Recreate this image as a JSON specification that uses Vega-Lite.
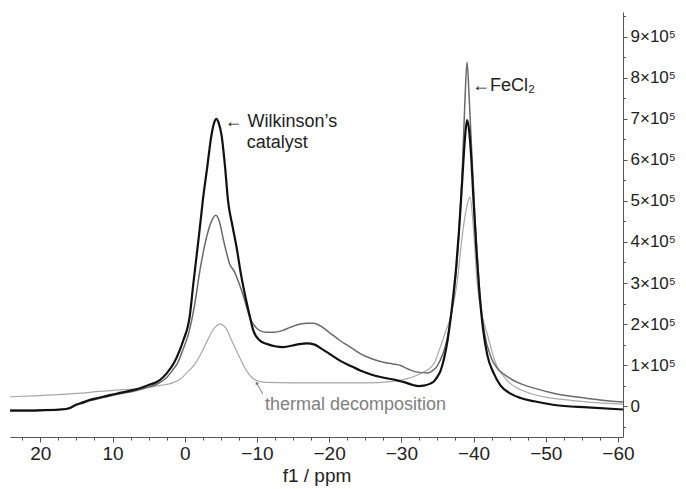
{
  "$schema": "https://vega.github.io/schema/vega-lite/v6.json",
  "width": 613,
  "height": 425,
  "autosize": "none",
  "padding": {"left": 10, "top": 12, "right": 63, "bottom": 52},
  "config": {
    "view": {"stroke": null},
    "font": "Liberation Sans",
    "axis": {"grid": false, "domainColor": "#555", "tickColor": "#555", "labelColor": "#222", "titleColor": "#222", "labelFont": "Liberation Sans", "titleFont": "Liberation Sans", "titleFontWeight": "normal"}
  },
  "datasets": {
    "spectra": [
      {"s": "T", "ppm": 24.2, "I": 23000}, {"s": "T", "ppm": 20, "I": 26000}, {"s": "T", "ppm": 15, "I": 31000}, {"s": "T", "ppm": 11.8, "I": 36000}, {"s": "T", "ppm": 9, "I": 40000}, {"s": "T", "ppm": 6.25, "I": 43000}, {"s": "T", "ppm": 3.5, "I": 50000}, {"s": "T", "ppm": 1.5, "I": 58000}, {"s": "T", "ppm": 0.7, "I": 65000}, {"s": "T", "ppm": -0.5, "I": 85000}, {"s": "T", "ppm": -1.5, "I": 105000}, {"s": "T", "ppm": -2.1, "I": 123000}, {"s": "T", "ppm": -3.0, "I": 155000}, {"s": "T", "ppm": -4.0, "I": 188000}, {"s": "T", "ppm": -4.9, "I": 200000}, {"s": "T", "ppm": -5.7, "I": 190000}, {"s": "T", "ppm": -6.5, "I": 160000}, {"s": "T", "ppm": -7.6, "I": 119000}, {"s": "T", "ppm": -8.5, "I": 88000}, {"s": "T", "ppm": -9.5, "I": 67000}, {"s": "T", "ppm": -10.5, "I": 60000}, {"s": "T", "ppm": -11.3, "I": 58000}, {"s": "T", "ppm": -15, "I": 57000}, {"s": "T", "ppm": -20, "I": 57000}, {"s": "T", "ppm": -25, "I": 57000}, {"s": "T", "ppm": -28.5, "I": 60000}, {"s": "T", "ppm": -30.8, "I": 67000}, {"s": "T", "ppm": -32.6, "I": 79000}, {"s": "T", "ppm": -34.5, "I": 103000}, {"s": "T", "ppm": -35.4, "I": 144000}, {"s": "T", "ppm": -36.1, "I": 180000}, {"s": "T", "ppm": -36.8, "I": 216000}, {"s": "T", "ppm": -37.7, "I": 297000}, {"s": "T", "ppm": -38.4, "I": 410000}, {"s": "T", "ppm": -39.0, "I": 480000}, {"s": "T", "ppm": -39.5, "I": 510000}, {"s": "T", "ppm": -40.0, "I": 430000}, {"s": "T", "ppm": -40.5, "I": 300000}, {"s": "T", "ppm": -41.2, "I": 220000}, {"s": "T", "ppm": -41.9, "I": 176000}, {"s": "T", "ppm": -42.6, "I": 130000}, {"s": "T", "ppm": -43.3, "I": 95000}, {"s": "T", "ppm": -44.2, "I": 72000}, {"s": "T", "ppm": -45.1, "I": 55000}, {"s": "T", "ppm": -46.5, "I": 40000}, {"s": "T", "ppm": -47.9, "I": 31000}, {"s": "T", "ppm": -50, "I": 22000}, {"s": "T", "ppm": -52.5, "I": 16000}, {"s": "T", "ppm": -56, "I": 10000}, {"s": "T", "ppm": -60.7, "I": 5000},

      {"s": "F", "ppm": 24.2, "I": -10000}, {"s": "F", "ppm": 20, "I": -9000}, {"s": "F", "ppm": 17, "I": -7000}, {"s": "F", "ppm": 16, "I": -5000}, {"s": "F", "ppm": 15, "I": 3000}, {"s": "F", "ppm": 14, "I": 8000}, {"s": "F", "ppm": 13.2, "I": 13000}, {"s": "F", "ppm": 12, "I": 18000}, {"s": "F", "ppm": 10.4, "I": 25000}, {"s": "F", "ppm": 8.8, "I": 31000}, {"s": "F", "ppm": 7.2, "I": 36000}, {"s": "F", "ppm": 6, "I": 41000}, {"s": "F", "ppm": 4.9, "I": 47000}, {"s": "F", "ppm": 3.5, "I": 57000}, {"s": "F", "ppm": 2.5, "I": 70000}, {"s": "F", "ppm": 1.5, "I": 92000}, {"s": "F", "ppm": 1.0, "I": 105000}, {"s": "F", "ppm": 0.2, "I": 140000}, {"s": "F", "ppm": -0.5, "I": 175000}, {"s": "F", "ppm": -1.4, "I": 250000}, {"s": "F", "ppm": -2.1, "I": 330000}, {"s": "F", "ppm": -3.0, "I": 410000}, {"s": "F", "ppm": -3.7, "I": 450000}, {"s": "F", "ppm": -4.3, "I": 465000}, {"s": "F", "ppm": -4.8, "I": 450000}, {"s": "F", "ppm": -5.3, "I": 410000}, {"s": "F", "ppm": -5.7, "I": 380000}, {"s": "F", "ppm": -6.25, "I": 345000}, {"s": "F", "ppm": -6.8, "I": 330000}, {"s": "F", "ppm": -7.4, "I": 305000}, {"s": "F", "ppm": -8.0, "I": 275000}, {"s": "F", "ppm": -8.6, "I": 240000}, {"s": "F", "ppm": -9.0, "I": 216000}, {"s": "F", "ppm": -9.5, "I": 200000}, {"s": "F", "ppm": -10.4, "I": 184000}, {"s": "F", "ppm": -11.3, "I": 180000}, {"s": "F", "ppm": -12.3, "I": 180000}, {"s": "F", "ppm": -13.5, "I": 184000}, {"s": "F", "ppm": -14.6, "I": 192000}, {"s": "F", "ppm": -16, "I": 200000}, {"s": "F", "ppm": -16.9, "I": 202000}, {"s": "F", "ppm": -17.8, "I": 202000}, {"s": "F", "ppm": -18.75, "I": 196000}, {"s": "F", "ppm": -20, "I": 180000}, {"s": "F", "ppm": -21.5, "I": 160000}, {"s": "F", "ppm": -23, "I": 143000}, {"s": "F", "ppm": -24.3, "I": 128000}, {"s": "F", "ppm": -25.8, "I": 116000}, {"s": "F", "ppm": -27.5, "I": 107000}, {"s": "F", "ppm": -28.8, "I": 103000}, {"s": "F", "ppm": -29.9, "I": 99000}, {"s": "F", "ppm": -31, "I": 90000}, {"s": "F", "ppm": -32.2, "I": 83000}, {"s": "F", "ppm": -33.6, "I": 81000}, {"s": "F", "ppm": -34.3, "I": 86000}, {"s": "F", "ppm": -35, "I": 99000}, {"s": "F", "ppm": -35.7, "I": 125000}, {"s": "F", "ppm": -36.3, "I": 160000}, {"s": "F", "ppm": -36.8, "I": 210000}, {"s": "F", "ppm": -37.3, "I": 275000}, {"s": "F", "ppm": -37.7, "I": 350000}, {"s": "F", "ppm": -38.1, "I": 460000}, {"s": "F", "ppm": -38.5, "I": 600000}, {"s": "F", "ppm": -38.8, "I": 740000}, {"s": "F", "ppm": -39.1, "I": 838000}, {"s": "F", "ppm": -39.4, "I": 750000}, {"s": "F", "ppm": -39.8, "I": 600000}, {"s": "F", "ppm": -40.2, "I": 460000}, {"s": "F", "ppm": -40.6, "I": 340000}, {"s": "F", "ppm": -41.0, "I": 250000}, {"s": "F", "ppm": -41.5, "I": 180000}, {"s": "F", "ppm": -42.4, "I": 120000}, {"s": "F", "ppm": -43.3, "I": 92000}, {"s": "F", "ppm": -44.2, "I": 78000}, {"s": "F", "ppm": -45.3, "I": 65000}, {"s": "F", "ppm": -46.5, "I": 55000}, {"s": "F", "ppm": -48.4, "I": 44000}, {"s": "F", "ppm": -51.2, "I": 31000}, {"s": "F", "ppm": -55.8, "I": 19000}, {"s": "F", "ppm": -60.7, "I": 10000},

      {"s": "W", "ppm": 24.2, "I": -11000}, {"s": "W", "ppm": 20, "I": -10000}, {"s": "W", "ppm": 17, "I": -8000}, {"s": "W", "ppm": 16, "I": -5000}, {"s": "W", "ppm": 15, "I": 4000}, {"s": "W", "ppm": 14, "I": 10000}, {"s": "W", "ppm": 13.2, "I": 15000}, {"s": "W", "ppm": 12, "I": 20000}, {"s": "W", "ppm": 10.4, "I": 27000}, {"s": "W", "ppm": 8.8, "I": 33000}, {"s": "W", "ppm": 7.2, "I": 39000}, {"s": "W", "ppm": 6, "I": 45000}, {"s": "W", "ppm": 4.9, "I": 52000}, {"s": "W", "ppm": 3.5, "I": 63000}, {"s": "W", "ppm": 2.5, "I": 80000}, {"s": "W", "ppm": 1.5, "I": 105000}, {"s": "W", "ppm": 0.7, "I": 136000}, {"s": "W", "ppm": 0.2, "I": 160000}, {"s": "W", "ppm": -0.7, "I": 220000}, {"s": "W", "ppm": -1.2, "I": 300000}, {"s": "W", "ppm": -2.0, "I": 420000}, {"s": "W", "ppm": -2.5, "I": 500000}, {"s": "W", "ppm": -3.1, "I": 580000}, {"s": "W", "ppm": -3.7, "I": 660000}, {"s": "W", "ppm": -4.1, "I": 692000}, {"s": "W", "ppm": -4.4, "I": 700000}, {"s": "W", "ppm": -4.7, "I": 690000}, {"s": "W", "ppm": -5.1, "I": 660000}, {"s": "W", "ppm": -5.6, "I": 580000}, {"s": "W", "ppm": -6.0, "I": 500000}, {"s": "W", "ppm": -6.6, "I": 440000}, {"s": "W", "ppm": -7.2, "I": 385000}, {"s": "W", "ppm": -7.8, "I": 320000}, {"s": "W", "ppm": -8.3, "I": 275000}, {"s": "W", "ppm": -9.0, "I": 220000}, {"s": "W", "ppm": -9.5, "I": 184000}, {"s": "W", "ppm": -10.4, "I": 160000}, {"s": "W", "ppm": -11.3, "I": 152000}, {"s": "W", "ppm": -12.5, "I": 146000}, {"s": "W", "ppm": -13.6, "I": 144000}, {"s": "W", "ppm": -15.5, "I": 150000}, {"s": "W", "ppm": -16.9, "I": 153000}, {"s": "W", "ppm": -18.0, "I": 150000}, {"s": "W", "ppm": -18.75, "I": 142000}, {"s": "W", "ppm": -20, "I": 128000}, {"s": "W", "ppm": -21.5, "I": 111000}, {"s": "W", "ppm": -23, "I": 98000}, {"s": "W", "ppm": -24.3, "I": 87000}, {"s": "W", "ppm": -25.7, "I": 78000}, {"s": "W", "ppm": -27.1, "I": 71000}, {"s": "W", "ppm": -29.4, "I": 63000}, {"s": "W", "ppm": -30.5, "I": 58000}, {"s": "W", "ppm": -31.7, "I": 51000}, {"s": "W", "ppm": -32.4, "I": 49000}, {"s": "W", "ppm": -33.1, "I": 50000}, {"s": "W", "ppm": -34.0, "I": 55000}, {"s": "W", "ppm": -34.5, "I": 60000}, {"s": "W", "ppm": -35.0, "I": 72000}, {"s": "W", "ppm": -35.4, "I": 85000}, {"s": "W", "ppm": -35.9, "I": 115000}, {"s": "W", "ppm": -36.4, "I": 160000}, {"s": "W", "ppm": -36.8, "I": 210000}, {"s": "W", "ppm": -37.2, "I": 270000}, {"s": "W", "ppm": -37.6, "I": 340000}, {"s": "W", "ppm": -38.0, "I": 430000}, {"s": "W", "ppm": -38.4, "I": 540000}, {"s": "W", "ppm": -38.8, "I": 650000}, {"s": "W", "ppm": -39.1, "I": 697000}, {"s": "W", "ppm": -39.4, "I": 670000}, {"s": "W", "ppm": -39.7, "I": 600000}, {"s": "W", "ppm": -40.0, "I": 500000}, {"s": "W", "ppm": -40.4, "I": 380000}, {"s": "W", "ppm": -40.8, "I": 280000}, {"s": "W", "ppm": -41.3, "I": 190000}, {"s": "W", "ppm": -41.9, "I": 125000}, {"s": "W", "ppm": -42.8, "I": 80000}, {"s": "W", "ppm": -43.75, "I": 50000}, {"s": "W", "ppm": -45, "I": 32000}, {"s": "W", "ppm": -46.5, "I": 20000}, {"s": "W", "ppm": -48.4, "I": 12000}, {"s": "W", "ppm": -51.2, "I": 3000}, {"s": "W", "ppm": -55.8, "I": -3000}, {"s": "W", "ppm": -60.7, "I": -8000}
    ],
    "labels": [
      {"ppm": -5.5, "I": 692000, "text": "← Wilkinson’s", "c": "dark"},
      {"ppm": -8.6, "I": 642000, "text": "catalyst", "c": "dark"},
      {"ppm": -39.8, "I": 780000, "text": "←FeCl₂", "c": "dark"},
      {"ppm": -11.1, "I": 3000, "text": "thermal decomposition", "c": "gray"}
    ],
    "pointer": [
      {"ppm": -10.8, "I": 30000, "ppm2": -9.95, "I2": 57000}
    ]
  },
  "encoding": {
    "x": {"field": "ppm", "type": "quantitative", "scale": {"domain": [-60.7, 24.2], "reverse": true, "nice": false, "zero": false}},
    "y": {"field": "I", "type": "quantitative", "scale": {"domain": [-75000, 960000], "nice": false, "zero": false}}
  },
  "layer": [
    {
      "data": {"name": "spectra"},
      "transform": [{"filter": "datum.s == 'T'"}],
      "mark": {"type": "line", "color": "#a8a8a8", "strokeWidth": 1.2, "interpolate": "monotone"},
      "encoding": {
        "x": {"field": "ppm", "type": "quantitative", "axis": {"orient": "bottom", "values": [-60, -50, -40, -30, -20, -10, 0, 10, 20], "format": "d", "tickSize": 5, "labelFontSize": 19, "labelPadding": 2, "title": "f1 / ppm", "titleFontSize": 19, "titlePadding": 3}},
        "y": {"field": "I", "type": "quantitative", "axis": {"orient": "right", "values": [0, 100000, 200000, 300000, 400000, 500000, 600000, 700000, 800000, 900000], "labelExpr": "datum.value == 0 ? '0' : format(datum.value / 100000, 'd') + '×10⁵'", "tickSize": 4, "labelFontSize": 17, "labelPadding": 3, "title": null}}
      }
    },
    {
      "data": {"name": "spectra"},
      "transform": [{"filter": "datum.s == 'F'"}],
      "mark": {"type": "line", "color": "#6a6a6a", "strokeWidth": 1.5, "interpolate": "monotone"},
      "encoding": {
        "x": {"field": "ppm", "type": "quantitative", "axis": {"orient": "bottom", "values": [-60, -57.5, -55, -52.5, -50, -47.5, -45, -42.5, -40, -37.5, -35, -32.5, -30, -27.5, -25, -22.5, -20, -17.5, -15, -12.5, -10, -7.5, -5, -2.5, 0, 2.5, 5, 7.5, 10, 12.5, 15, 17.5, 20, 22.5], "labels": false, "tickSize": 3, "domain": false, "title": null}},
        "y": {"field": "I", "type": "quantitative", "axis": {"orient": "right", "values": [-50000, 50000, 150000, 250000, 350000, 450000, 550000, 650000, 750000, 850000, 950000], "labels": false, "tickSize": 2.5, "domain": false, "title": null}}
      }
    },
    {
      "data": {"name": "spectra"},
      "transform": [{"filter": "datum.s == 'W'"}],
      "mark": {"type": "line", "color": "#111111", "strokeWidth": 2.2, "interpolate": "monotone"},
      "encoding": {
        "x": {"field": "ppm", "type": "quantitative", "axis": null},
        "y": {"field": "I", "type": "quantitative", "axis": null}
      }
    },
    {
      "data": {"name": "pointer"},
      "mark": {"type": "rule", "color": "#777", "strokeWidth": 1},
      "encoding": {
        "x": {"field": "ppm", "type": "quantitative", "axis": null},
        "y": {"field": "I", "type": "quantitative", "axis": null},
        "x2": {"field": "ppm2"},
        "y2": {"field": "I2"}
      }
    },
    {
      "data": {"name": "pointer"},
      "mark": {"type": "point", "shape": "triangle-up", "filled": true, "color": "#777", "size": 14, "angle": -30, "opacity": 1},
      "encoding": {
        "x": {"field": "ppm2", "type": "quantitative", "axis": null},
        "y": {"field": "I2", "type": "quantitative", "axis": null}
      }
    },
    {
      "data": {"name": "labels"},
      "mark": {"type": "text", "align": "left", "baseline": "middle", "fontSize": 18, "font": "Liberation Sans"},
      "encoding": {
        "x": {"field": "ppm", "type": "quantitative", "axis": null},
        "y": {"field": "I", "type": "quantitative", "axis": null},
        "text": {"field": "text"},
        "color": {"field": "c", "type": "nominal", "scale": {"domain": ["dark", "gray"], "range": ["#222222", "#808080"]}, "legend": null}
      }
    }
  ],
  "resolve": {"axis": {"x": "independent", "y": "independent"}}
}
